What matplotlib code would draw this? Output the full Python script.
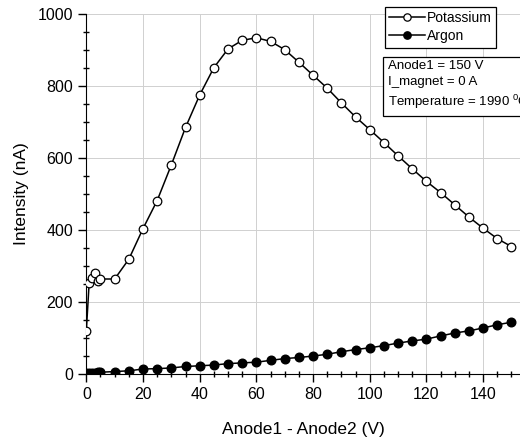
import matplotlib
matplotlib.use("Agg")
import matplotlib.pyplot as plt
from matplotlib.ticker import MultipleLocator

plt.rcParams['font.family'] = ['Liberation Sans', 'DejaVu Sans']
plt.rcParams['mathtext.fontset'] = 'custom'
plt.rcParams['mathtext.rm'] = 'Liberation Sans'

# potassium signal vs anode voltage difference
k_volts = [0, 1, 2, 3, 4, 5, 10, 15, 20, 25, 30, 35, 40, 45, 50, 55, 60, 65, 70, 75,
           80, 85, 90, 95, 100, 105, 110, 115, 120, 125, 130, 135, 140, 145, 150]
k_intens = [120, 253, 268, 280, 259, 264, 264, 319, 404, 482, 581, 685, 775, 851, 903, 927,
            934, 924, 901, 866, 830, 794, 753, 714, 679, 643, 606, 570, 535, 504, 470, 436,
            405, 376, 354]

# argon signal
ar_volts = [0, 1, 2, 3, 4, 5, 10, 15, 20, 25, 30, 35, 40, 45, 50, 55, 60, 65, 70, 75,
            80, 85, 90, 95, 100, 105, 110, 115, 120, 125, 130, 135, 140, 145, 150]
ar_intens = [4, 4, 4, 4, 5, 5, 7, 9, 14, 15, 17, 21, 23, 25, 29, 31, 33, 38, 43, 46,
             50, 55, 62, 68, 73, 79, 86, 92, 97, 106, 114, 120, 128, 137, 144]

W, H = 520, 438
fig = plt.figure(figsize=(W / 100, H / 100), dpi=100)
ax = fig.add_axes([0.166, 0.146, 0.834, 0.822])

ax.plot(k_volts, k_intens, '-o', color='black', lw=1.1, ms=6.2,
        mfc='white', mec='black', mew=0.9, label='Potassium', zorder=3)
ax.plot(ar_volts, ar_intens, '-o', color='black', lw=1.1, ms=6.2,
        mfc='black', mec='black', label='Argon', zorder=3)

ax.set_xlim(0, 153)
ax.set_ylim(0, 1000)
ax.xaxis.set_major_locator(MultipleLocator(20))
ax.xaxis.set_minor_locator(MultipleLocator(5))
ax.yaxis.set_major_locator(MultipleLocator(200))
ax.yaxis.set_minor_locator(MultipleLocator(50))
ax.grid(True, which='major', color='#d0d0d0', lw=0.7)
ax.set_axisbelow(True)

for s in ['top', 'right']:
    ax.spines[s].set_visible(False)
ax.tick_params(which='major', direction='out', length=6, width=1, labelsize=11.5)
ax.tick_params(which='minor', direction='inout', length=5, width=1)

ax.set_xlabel('Anode1 - Anode2 (V)', fontsize=12.5, labelpad=14)
ax.set_ylabel('Intensity (nA)', fontsize=12.5, labelpad=6)

leg = fig.legend(loc='upper left', bbox_to_anchor=(385 / W, 1 - 7 / H), fontsize=10,
                 handlelength=2.6, handletextpad=0.15, borderpad=0.3, borderaxespad=0,
                 labelspacing=0.3, numpoints=1, markerscale=0.85,
                 fancybox=False, framealpha=1)
leg.get_frame().set_edgecolor('black')
leg.get_frame().set_linewidth(0.9)

fig.text(388 / W, 1 - 60 / H, 'Anode1 = 150 V\nI_magnet = 0 A\nTemperature = 1990 $^{0}$C',
         fontsize=9.5, va='top', ha='left', linespacing=1.4,
         bbox=dict(boxstyle='square,pad=0.35', fc='white', ec='black', lw=0.9))

fig.savefig('out.png', dpi=100)
